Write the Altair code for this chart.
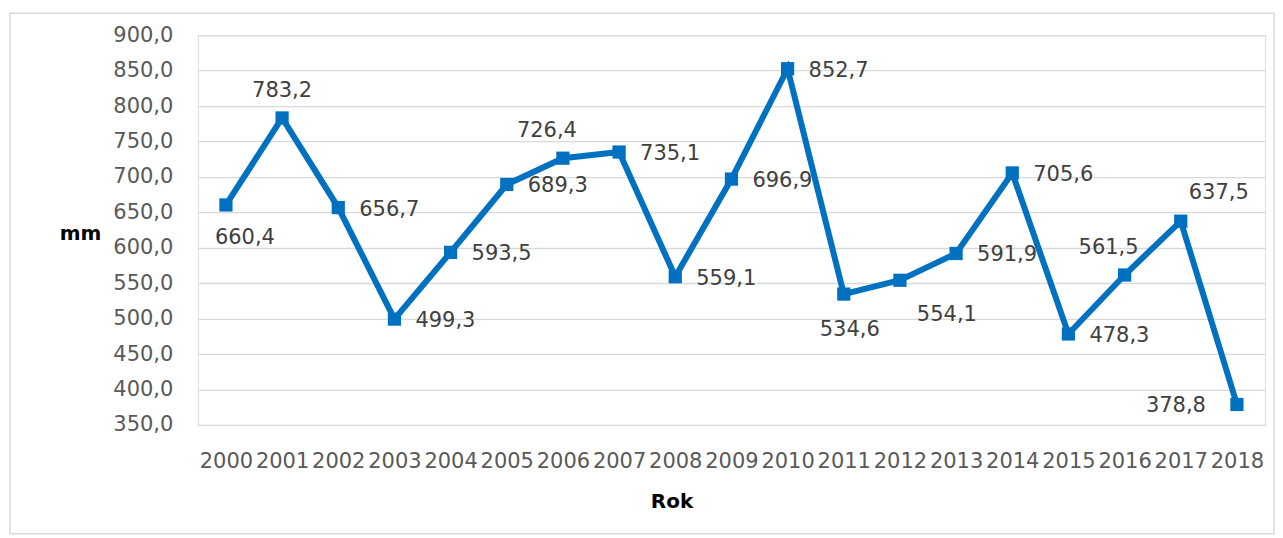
import altair as alt
import pandas as pd

years = [str(y) for y in range(2000, 2019)]
values = [660.4, 783.2, 656.7, 499.3, 593.5, 689.3, 726.4, 735.1, 559.1, 696.9,
          852.7, 534.6, 554.1, 591.9, 705.6, 478.3, 561.5, 637.5, 378.8]
y_ticks = [350, 400, 450, 500, 550, 600, 650, 700, 750, 800, 850, 900]

# label placement groups (which years get which placement)
place_right = ["2002", "2003", "2004", "2005", "2007", "2008", "2009", "2010", "2013", "2014", "2015"]
place_above = ["2001"]
place_above_left = ["2006", "2016"]
place_above_right = ["2017"]
place_below = ["2011"]
place_below_right = ["2000"]
place_below_far_right = ["2012"]
place_left = ["2018"]

df = pd.DataFrame({"Rok": years, "mm": values})

FONT = "DejaVu Sans"
BLUE = "#0070C0"
W, H = 1068, 390

x_enc = alt.X("Rok:N", sort=years,
              scale=alt.Scale(type="point", padding=0.5),
              axis=alt.Axis(title="Rok", grid=False, domain=False, ticks=False, tickSize=0,
                            labelAngle=0, labelFont=FONT, labelFontSize=21, labelColor="#595959",
                            labelPadding=37, labelBaseline="middle", labelOverlap=False,
                            labelFlush=False,
                            titleFont=FONT, titleFontSize=20, titleFontWeight="bold",
                            titleColor="#000000", titleX=474, titleY=77,
                            titleAlign="center", titleBaseline="middle"))
y_enc = alt.Y("mm:Q",
              scale=alt.Scale(domain=[350, 900], nice=False, zero=False),
              axis=alt.Axis(title="mm", values=y_ticks, domain=False, ticks=False, tickSize=0,
                            grid=True, gridColor="#d9d9d9", gridWidth=1.3,
                            labelOverlap=False, labelFlush=False,
                            labelExpr="replace(format(datum.value, '.1f'), '.', ',')",
                            labelFont=FONT, labelFontSize=21, labelColor="#595959",
                            labelPadding=25,
                            titleFont=FONT, titleFontSize=20, titleFontWeight="bold",
                            titleColor="#000000", titleAngle=0, titleX=-118, titleY=198,
                            titleAlign="center", titleBaseline="middle"))

base = alt.Chart(df).encode(x=x_enc, y=y_enc)

line = base.mark_line(color=BLUE, strokeWidth=6)
pts = base.mark_square(color=BLUE, size=175, opacity=1, filled=True)


def labels(group, dx, dy, align="left"):
    return (base
            .transform_filter(alt.FieldOneOfPredicate(field="Rok", oneOf=group))
            .transform_calculate(lab="replace(format(datum.mm, '.1f'), '.', ',')")
            .mark_text(font=FONT, fontSize=21, color="#404040", dx=dx, dy=dy,
                       align=align, baseline="middle")
            .encode(text="lab:N"))


text_layers = [
    labels(place_right, 21, 2, "left"),
    labels(place_above, 0, -27, "center"),
    labels(place_above_left, -16, -27, "center"),
    labels(place_above_right, 38, -28, "center"),
    labels(place_below, 6, 36, "center"),
    labels(place_below_right, 19, 33, "center"),
    labels(place_below_far_right, 47, 35, "center"),
    labels(place_left, -31, 2, "right"),
]

border = alt.Chart(pd.DataFrame({"a": [0]})).mark_rect(
    fill=None, stroke="#d9d9d9", strokeWidth=1.5
).encode(x=alt.value(-188), x2=alt.value(1077), y=alt.value(-22), y2=alt.value(499))

chart = alt.layer(border, line, pts, *text_layers).properties(
    width=W, height=H,
    autosize=alt.AutoSizeParams(type="none"),
    padding={"left": 190, "top": 27, "right": 10, "bottom": 110},
).configure_view(stroke=None).configure(background="white")

chart.save("out.html", embed_options={"renderer": "svg", "actions": False})
